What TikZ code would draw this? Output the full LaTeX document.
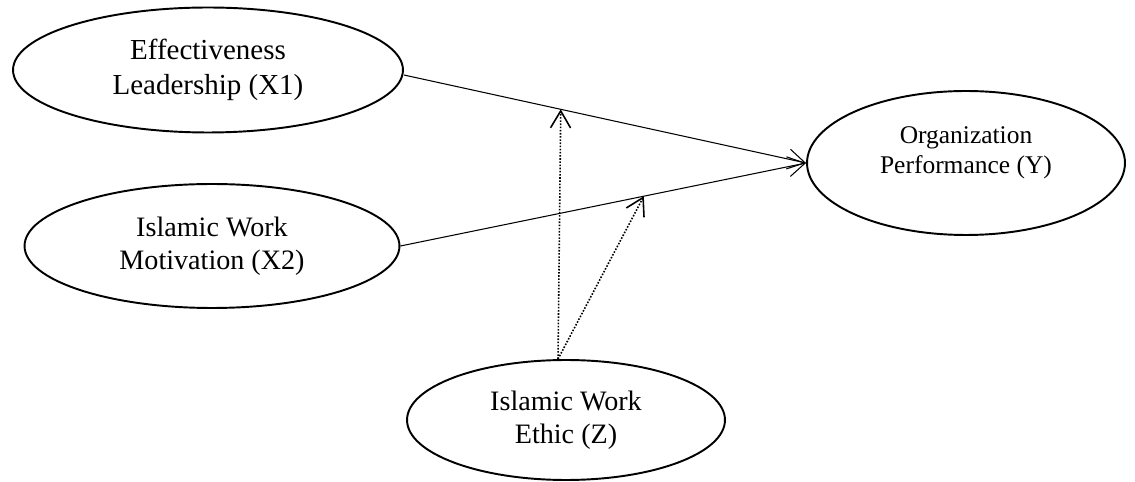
\documentclass[tikz,border=0pt]{standalone}
\usepackage{fontspec}
\setmainfont{Liberation Serif}
\usetikzlibrary{shapes.geometric,arrows.meta}
\begin{document}
\begin{tikzpicture}[x=0.02cm,y=-0.02cm]
\useasboundingbox (0,0) rectangle (1135,482);
\tikzset{latent/.style={draw,ellipse,line width=1.1pt,inner sep=0pt,align=center,
  font=\fontsize{16}{19}\selectfont}};
\tikzset{path/.style={-{Straight Barb[length=3.4mm,width=4mm]},line width=0.6pt}};
\tikzset{moderate/.style={path,dash pattern=on 0.9pt off 0.9pt,line width=0.9pt}};

\node[latent,minimum width=7.8cm,minimum height=2.5cm,font=\fontsize{16.5}{20}\selectfont] (x1) at (208,70) {Effectiveness\\Leadership (X1)};
\node[latent,minimum width=7.5cm,minimum height=2.48cm] (x2) at (212,246) {Islamic Work\\Motivation (X2)};
\node[latent,minimum width=6.36cm,minimum height=2.88cm,font=\fontsize{14.5}{17}\selectfont,text depth=0.5cm] (y) at (966,163) {Organization\\Performance (Y)};
\node[latent,minimum width=6.36cm,minimum height=2.4cm] (z) at (566,420) {Islamic Work\\Ethic (Z)};

\path ([yshift=-0.1cm]x1.east) edge [path] coordinate[pos=0.39] (m1) (y.west);
\path (x2.east) edge [path] coordinate[pos=0.6] (m2) (y.west);
\draw[moderate] ([xshift=-0.16cm]z.north) -- (m1);
\draw[moderate] ([xshift=-0.16cm]z.north) -- (m2);
\end{tikzpicture}
\end{document}
